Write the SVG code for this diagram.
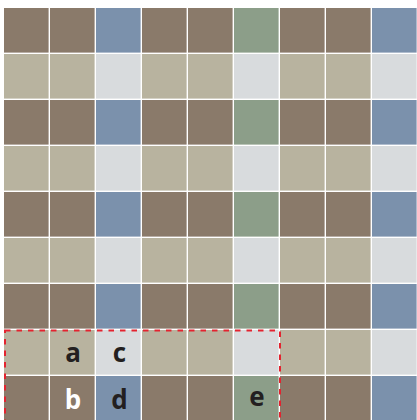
<svg xmlns="http://www.w3.org/2000/svg" width="417" height="420" viewBox="0 0 417 420">
<style>
.br{fill:#8a7a6a}.be{fill:#b8b39f}.bl{fill:#7b91ac}.lg{fill:#d8dbdd}.gr{fill:#8c9e89}
.t{font-family:"Open Sans","DejaVu Sans",sans-serif;font-weight:bold;font-size:26px;text-anchor:middle;fill:#231f20}
</style>
<defs>
<g id="rowA">
<rect class="br" x="4" width="44.6" height="44.6"/>
<rect class="br" x="50" width="44.6" height="44.6"/>
<rect class="bl" x="96" width="44.6" height="44.6"/>
<rect class="br" x="142" width="44.6" height="44.6"/>
<rect class="br" x="188" width="44.6" height="44.6"/>
<rect class="gr" x="234" width="44.6" height="44.6"/>
<rect class="br" x="280" width="44.6" height="44.6"/>
<rect class="br" x="326" width="44.6" height="44.6"/>
<rect class="bl" x="372" width="44.6" height="44.6"/>
</g>
<g id="rowB">
<rect class="be" x="4" width="44.6" height="44.6"/>
<rect class="be" x="50" width="44.6" height="44.6"/>
<rect class="lg" x="96" width="44.6" height="44.6"/>
<rect class="be" x="142" width="44.6" height="44.6"/>
<rect class="be" x="188" width="44.6" height="44.6"/>
<rect class="lg" x="234" width="44.6" height="44.6"/>
<rect class="be" x="280" width="44.6" height="44.6"/>
<rect class="be" x="326" width="44.6" height="44.6"/>
<rect class="lg" x="372" width="44.6" height="44.6"/>
</g>
</defs>
<rect width="417" height="420" fill="#ffffff"/>
<g id="grid">
<use href="#rowA" y="8"/>
<use href="#rowB" y="54"/>
<use href="#rowA" y="100"/>
<use href="#rowB" y="146"/>
<use href="#rowA" y="192"/>
<use href="#rowB" y="238"/>
<use href="#rowA" y="284"/>
<use href="#rowB" y="330"/>
<use href="#rowA" y="376"/>
</g>
<g id="labels">
<g id="a"><text class="t" x="73" y="362">a</text></g>
<g id="c"><text class="t" x="119.5" y="362">c</text></g>
<g id="b"><text class="t" x="73" y="408.5" style="fill:#ffffff">b</text></g>
<g id="d"><text class="t" x="119.5" y="408.5">d</text></g>
<g id="e"><text class="t" x="257" y="406">e</text></g>
</g>
<g id="selection">
<rect x="5" y="330.5" width="275" height="100" fill="none" stroke="#e3232f" stroke-width="2" stroke-dasharray="5.5 6"/>
</g>
</svg>
